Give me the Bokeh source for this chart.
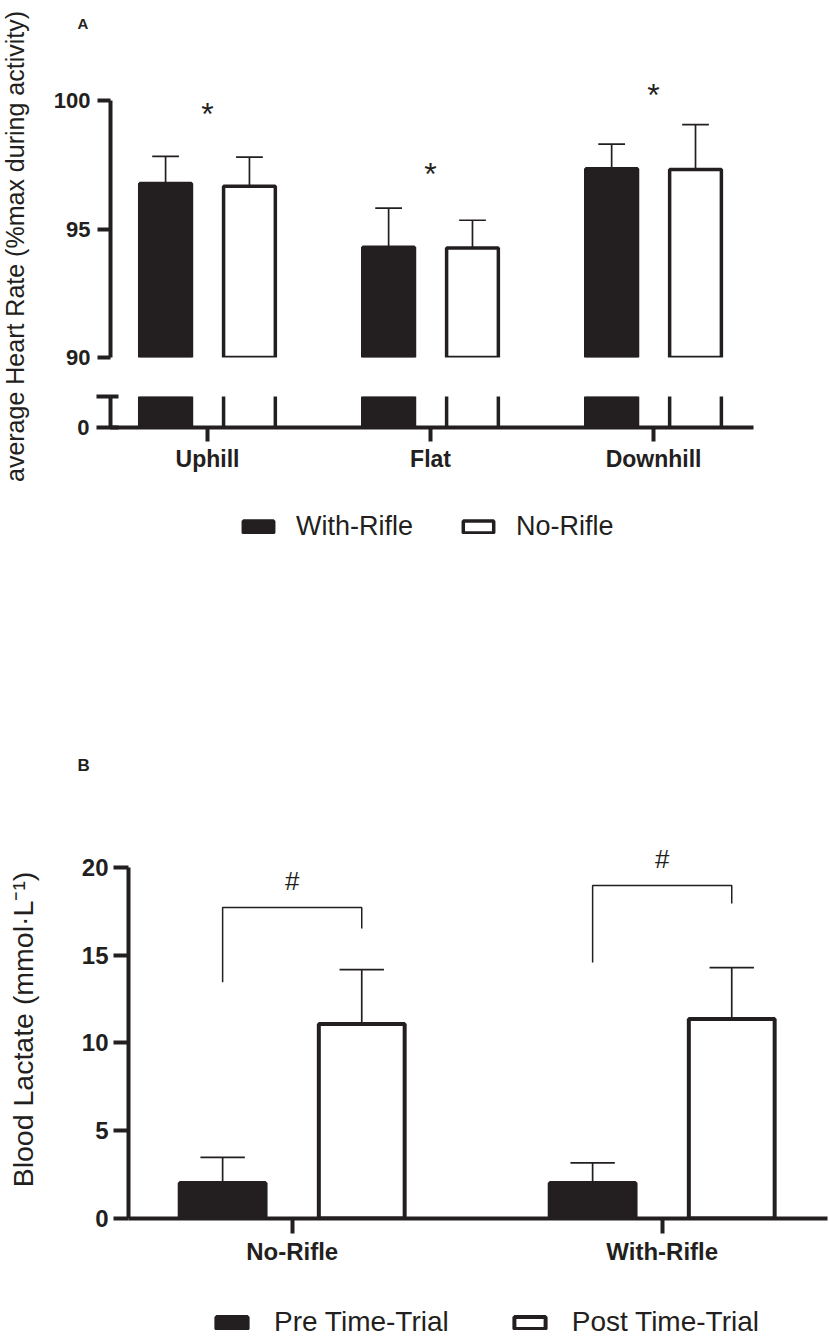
import numpy as np
from bokeh.plotting import figure
from bokeh.layouts import column, row
from bokeh.models import Range1d, FixedTicker, Legend, LegendItem, ColumnDataSource
from bokeh.core.properties import value
from bokeh.embed import file_html
from bokeh.resources import INLINE

# ---------------- data ----------------
# Panel A: average heart rate (% max during activity)
terrain = ["Uphill", "Flat", "Downhill"]
hr_with_rifle = [96.77, 94.29, 97.34]
hr_with_rifle_sd = [1.06, 1.52, 0.96]
hr_no_rifle = [96.66, 94.26, 97.32]
hr_no_rifle_sd = [1.14, 1.08, 1.74]
hr_sig_y = [99.48, 97.13, 100.2]           # '*' markers
hr_ticks_upper = [90, 95, 100]
hr_ticks_lower = [0]

# Panel B: blood lactate (mmol/L)
condition = ["No-Rifle", "With-Rifle"]
lactate_pre = [2.02, 2.02]
lactate_pre_sd = [1.46, 1.15]
lactate_post = [11.07, 11.36]
lactate_post_sd = [3.10, 2.92]
bracket_left_y = [13.45, 14.58]
bracket_top_y = [17.71, 18.96]
bracket_right_y = [16.51, 17.94]
hash_y = [19.2, 20.48]
lac_ticks = [0, 5, 10, 15, 20]

# ---------------- style ----------------
FONT = "Liberation Sans"
DARK = "#231f20"
OFF = 0.188   # bar offset from group centre
BW = 0.232    # bar width
CAP = 0.06    # half cap width


def clean(p):
    p.grid.visible = False
    p.outline_line_color = None
    p.background_fill_color = "white"
    p.border_fill_color = "white"


def blank(width, height):
    p = figure(width=width, height=height, x_range=Range1d(0, width), y_range=Range1d(0, height),
               output_backend="svg", toolbar_location=None, x_axis_location=None, y_axis_location=None,
               min_border=0, min_border_left=0, min_border_right=0, min_border_top=0, min_border_bottom=0)
    clean(p)
    return p


def style_axis(ax, size, bold=True, tick_out=14, standoff=6):
    ax.axis_line_width = 4
    ax.axis_line_color = DARK
    ax.major_tick_line_width = 4
    ax.major_tick_line_color = DARK
    ax.major_tick_out = tick_out
    ax.major_tick_in = 0
    ax.minor_tick_line_color = None
    ax.major_label_text_font = FONT
    ax.major_label_text_font_size = size
    ax.major_label_text_font_style = "bold" if bold else "normal"
    ax.major_label_text_color = DARK
    ax.major_label_standoff = standoff


def legend_fig(width, height, labels, loc, glyph_w, standoff, spacing, lw, fsize):
    p = blank(width, height)
    key = ColumnDataSource(dict(x=[np.nan], top=[np.nan]))   # legend keys only
    r1 = p.vbar(x="x", top="top", width=1, source=key, fill_color=DARK, line_color=DARK, line_width=lw)
    r2 = p.vbar(x="x", top="top", width=1, source=key, fill_color="white", line_color=DARK, line_width=lw)
    leg = Legend(items=[LegendItem(label=labels[0], renderers=[r1]),
                        LegendItem(label=labels[1], renderers=[r2])],
                 orientation="horizontal", location=loc,
                 glyph_width=glyph_w, glyph_height=15, label_standoff=standoff, spacing=spacing,
                 label_text_font=FONT, label_text_font_size=fsize, label_text_color=DARK,
                 border_line_color=None, background_fill_color=None, padding=0, margin=0)
    p.add_layout(leg)
    return p


# ---------------- panel A ----------------
xa = np.arange(len(terrain))
srcA = ColumnDataSource(dict(
    xw=xa - OFF, xn=xa + OFF,
    xnl=xa + OFF - BW / 2, xnr=xa + OFF + BW / 2,
    wr=hr_with_rifle, nr=hr_no_rifle, zero=np.zeros(len(terrain)),
    wr_hi=np.array(hr_with_rifle) + np.array(hr_with_rifle_sd),
    nr_hi=np.array(hr_no_rifle) + np.array(hr_no_rifle_sd),
    xw0=xa - OFF - CAP, xw1=xa - OFF + CAP,
    xn0=xa + OFF - CAP, xn1=xa + OFF + CAP,
))

x_range_A = Range1d(-0.435, 2.448)

topA = figure(width=791, height=377, x_range=x_range_A, y_range=Range1d(90, 102.335),
              output_backend="svg", toolbar_location=None, x_axis_location=None,
              min_border_left=72, min_border_right=76, min_border_top=40, min_border_bottom=20)
clean(topA)
topA.title.text = "A"
topA.title.text_font = FONT
topA.title.text_font_size = "15px"
topA.title.text_font_style = "bold"
topA.title.text_color = DARK
topA.title.align = "left"
topA.title.offset = -33
topA.title.standoff = 17

topA.vbar(x="xw", top="wr", bottom=0, width=BW, source=srcA,
          fill_color=DARK, line_color=DARK, line_width=3.5)
topA.vbar(x="xn", top="nr", bottom=0, width=BW, source=srcA,
          fill_color="white", line_color=DARK, line_width=3.5)
for xc, lo, hi, c0, c1 in [("xw", "wr", "wr_hi", "xw0", "xw1"), ("xn", "nr", "nr_hi", "xn0", "xn1")]:
    topA.segment(x0=xc, y0=lo, x1=xc, y1=hi, source=srcA, line_color=DARK, line_width=1.7)
    topA.segment(x0=c0, y0=hi, x1=c1, y1=hi, source=srcA, line_color=DARK, line_width=1.7)
topA.text(x=xa, y=hr_sig_y, text=["*"] * len(terrain), text_align="center", text_baseline="middle",
          text_font=value(FONT), text_font_size="32px", text_color=DARK)

ya = topA.yaxis[0]
ya.bounds = (90, 100)
ya.ticker = FixedTicker(ticks=hr_ticks_upper)
style_axis(ya, "22px", tick_out=13, standoff=7)

LOW_TOP = 1
botA = figure(width=791, height=113, x_range=x_range_A, y_range=Range1d(0, LOW_TOP),
              output_backend="svg", toolbar_location=None,
              min_border_left=72, min_border_right=76, min_border_top=19, min_border_bottom=63)
clean(botA)
botA.vbar(x="xw", top="wr", bottom=0, width=BW, source=srcA,
          fill_color=DARK, line_color=DARK, line_width=3.5)
# open bars of the lower segment: only their two sides are visible below the break
botA.segment(x0="xnl", y0="zero", x1="xnl", y1="nr", source=srcA, line_color=DARK, line_width=3.5)
botA.segment(x0="xnr", y0="zero", x1="xnr", y1="nr", source=srcA, line_color=DARK, line_width=3.5)
yb = botA.yaxis[0]
yb.bounds = (0, LOW_TOP)
yb.ticker = FixedTicker(ticks=hr_ticks_lower + [LOW_TOP])
yb.major_label_overrides = {LOW_TOP: ""}
style_axis(yb, "22px", tick_out=14, standoff=7)
yb.major_tick_in = 8
xb = botA.xaxis[0]
xb.ticker = FixedTicker(ticks=list(xa))
xb.major_label_overrides = {int(i): t for i, t in enumerate(terrain)}
style_axis(xb, "23px", tick_out=14, standoff=4)

labA = blank(38, 490)
labA.text(x=[14.5], y=[490 - 246], text=["average Heart Rate (%max during activity)"], angle=np.pi / 2,
          text_align="center", text_baseline="middle", text_font=value(FONT),
          text_font_size="25px", text_color=DARK)

# legend of panel A (frame of this strip is aligned with panel B's frame, left edge x=128)
legA = legend_fig(829, 190, ["With-Rifle", "No-Rifle"], (111, 138), 38, 19, 46, 3.5, "27px")

# ---------------- panel B ----------------
xg = np.arange(len(condition))
srcB = ColumnDataSource(dict(
    xp=xg - OFF, xq=xg + OFF,
    pre=lactate_pre, post=lactate_post,
    pre_hi=np.array(lactate_pre) + np.array(lactate_pre_sd),
    post_hi=np.array(lactate_post) + np.array(lactate_post_sd),
    xp0=xg - OFF - CAP, xp1=xg - OFF + CAP,
    xq0=xg + OFF - CAP, xq1=xg + OFF + CAP,
))

figB = figure(width=829, height=609, x_range=Range1d(-0.4424, 1.4468), y_range=Range1d(0, 21.52),
              output_backend="svg", toolbar_location=None,
              min_border_left=128, min_border_right=2, min_border_top=160, min_border_bottom=71)
clean(figB)
figB.title.text = "B"
figB.title.text_font = FONT
figB.title.text_font_size = "17px"
figB.title.text_font_style = "bold"
figB.title.text_color = DARK
figB.title.align = "left"
figB.title.offset = -51
figB.title.standoff = 132

for xc, lo, hi, c0, c1 in [("xp", "pre", "pre_hi", "xp0", "xp1"), ("xq", "post", "post_hi", "xq0", "xq1")]:
    figB.segment(x0=xc, y0=lo, x1=xc, y1=hi, source=srcB, line_color=DARK, line_width=1.7)
    figB.segment(x0=c0, y0=hi, x1=c1, y1=hi, source=srcB, line_color=DARK, line_width=1.7)
figB.vbar(x="xp", top="pre", bottom=0, width=BW, source=srcB,
          fill_color=DARK, line_color=DARK, line_width=4)
figB.vbar(x="xq", top="post", bottom=0, width=BW, source=srcB,
          fill_color="white", line_color=DARK, line_width=4)

bx = [[g - OFF, g - OFF, g + OFF, g + OFF] for g in xg]
by = [[l, t, t, r] for l, t, r in zip(bracket_left_y, bracket_top_y, bracket_right_y)]
figB.multi_line(xs=bx, ys=by, line_color=DARK, line_width=1.5)
figB.text(x=xg, y=hash_y, text=["#"] * len(condition), text_align="center", text_baseline="middle",
          text_font=value(FONT), text_font_size="26px", text_color=DARK)

yB = figB.yaxis[0]
yB.bounds = (0, 20)
yB.ticker = FixedTicker(ticks=lac_ticks)
style_axis(yB, "24px", tick_out=15, standoff=5)
yB.axis_label = "Blood Lactate (mmol\u00b7L\u207b\u00b9)"
yB.axis_label_text_font = FONT
yB.axis_label_text_font_size = "28.5px"
yB.axis_label_text_font_style = "normal"
yB.axis_label_text_color = DARK
yB.axis_label_standoff = 40
xB = figB.xaxis[0]
xB.ticker = FixedTicker(ticks=list(xg))
xB.major_label_overrides = {int(i): t for i, t in enumerate(condition)}
style_axis(xB, "24px", tick_out=15, standoff=4)

legB = legend_fig(829, 49, ["Pre Time-Trial", "Post Time-Trial"], (84, 0), 39, 23, 61, 4, "28px")

layout = column(row(labA, column(topA, botA, spacing=0), spacing=0), legA, figB, legB, spacing=0)
open("out.html", "w").write(file_html(layout, INLINE))
